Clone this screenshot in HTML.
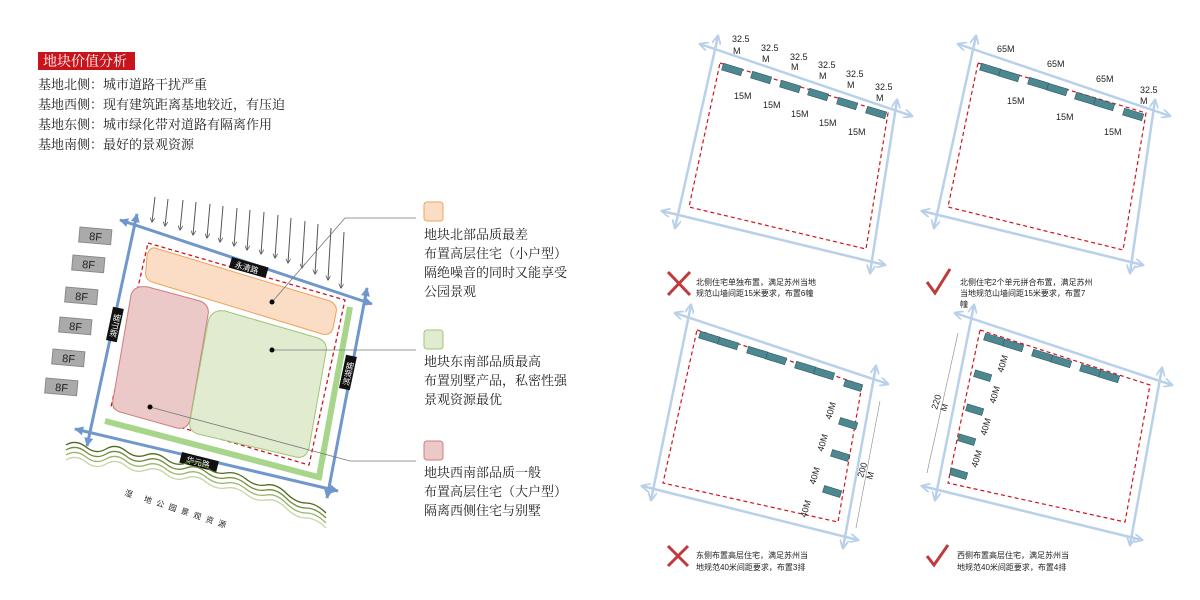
<!DOCTYPE html>
<html><head><meta charset="utf-8"><style>
body{margin:0;background:#fff;width:1200px;height:600px;overflow:hidden}
svg{display:block}
.s{font-family:"Liberation Serif","Noto Serif CJK SC",serif;font-size:13px;fill:#222}
.k{font-family:"Liberation Sans","Noto Sans CJK SC",sans-serif;font-size:8px;fill:#222}
.m{font-family:"Liberation Sans","Noto Sans CJK SC",sans-serif;font-size:9px;fill:#222}
</style></head><body>
<svg width="1200" height="600" viewBox="0 0 1200 600" xmlns="http://www.w3.org/2000/svg">
<defs>
<marker id="ab" viewBox="0 0 10 10" refX="9" refY="5" markerUnits="userSpaceOnUse" markerWidth="10" markerHeight="9" orient="auto-start-reverse"><path d="M0,0L10,5L0,10z" fill="#6f97cc"/></marker>
<marker id="al" viewBox="0 0 10 10" refX="9" refY="5" markerUnits="userSpaceOnUse" markerWidth="10" markerHeight="9" orient="auto-start-reverse"><path d="M0,0L10,5L0,10" fill="none" stroke="#b8d0ea" stroke-width="2"/></marker>
<marker id="ag" viewBox="0 0 10 10" refX="9" refY="5" markerUnits="userSpaceOnUse" markerWidth="5" markerHeight="5" orient="auto"><path d="M0,0L10,5L0,10" fill="none" stroke="#555" stroke-width="1.5"/></marker>
</defs>
<rect x="38" y="52" width="97" height="18" fill="#c8151d"/>
<text x="43" y="66" class="s" style="fill:#fff;font-size:14px">地块价值分析</text>
<text x="38" y="89" class="s">基地北侧：城市道路干扰严重</text>
<text x="38" y="109" class="s">基地西侧：现有建筑距离基地较近，有压迫</text>
<text x="38" y="129" class="s">基地东侧：城市绿化带对道路有隔离作用</text>
<text x="38" y="149" class="s">基地南侧：最好的景观资源</text>

<g stroke="#555" stroke-width="1" marker-end="url(#ag)">
<line x1="155" y1="197" x2="152" y2="222"/><line x1="168" y1="199" x2="165" y2="226"/>
<line x1="183" y1="200" x2="180" y2="230"/><line x1="196" y1="202" x2="193" y2="235"/>
<line x1="210" y1="204" x2="207" y2="238"/><line x1="223" y1="206" x2="220" y2="242"/>
<line x1="237" y1="208" x2="234" y2="246"/><line x1="250" y1="210" x2="247" y2="250"/>
<line x1="264" y1="212" x2="261" y2="254"/><line x1="278" y1="215" x2="275" y2="258"/>
<line x1="291" y1="218" x2="288" y2="263"/><line x1="305" y1="221" x2="302" y2="268"/>
<line x1="318" y1="224" x2="315" y2="274"/><line x1="331" y1="228" x2="328" y2="280"/>
<line x1="344" y1="232" x2="341" y2="288"/>
</g>
<g font-family="Liberation Sans,sans-serif" font-size="11">
<g transform="translate(80,227) rotate(5)"><rect width="32" height="15" fill="#aaa" stroke="#888"/><text x="10" y="12" fill="#222">8F</text></g>
<g transform="translate(73,255) rotate(5)"><rect width="32" height="15" fill="#aaa" stroke="#888"/><text x="10" y="12" fill="#222">8F</text></g>
<g transform="translate(66,287) rotate(5)"><rect width="32" height="15" fill="#aaa" stroke="#888"/><text x="10" y="12" fill="#222">8F</text></g>
<g transform="translate(60,317) rotate(5)"><rect width="32" height="15" fill="#aaa" stroke="#888"/><text x="10" y="12" fill="#222">8F</text></g>
<g transform="translate(53,349) rotate(5)"><rect width="32" height="15" fill="#aaa" stroke="#888"/><text x="10" y="12" fill="#222">8F</text></g>
<g transform="translate(46,378) rotate(5)"><rect width="32" height="15" fill="#aaa" stroke="#888"/><text x="10" y="12" fill="#222">8F</text></g>
</g>
<line x1="105" y1="421" x2="322" y2="478" stroke="#a7d68a" stroke-width="6"/>
<line x1="350" y1="307" x2="319" y2="477" stroke="#a7d68a" stroke-width="6"/>
<polygon points="148,243 345,300 309,465 111,407" fill="none" stroke="#d0131d" stroke-width="1.3" stroke-dasharray="4,3" stroke-linejoin="round"/>
<path d="M155,248 L330,301 Q338,305 336,313 L333,328 Q331,336 322,334 L152,282 Q144,279 146,270 L147,256 Q149,247 155,248Z" fill="#fbdcc5" stroke="#f0a35a"/>
<path d="M148,287 L200,301 Q210,305 208,315 L190,420 Q187,430 177,428 L120,412 Q111,409 113,400 L131,295 Q134,285 148,287Z" fill="#ecc9c9" stroke="#d07c7c"/>
<path d="M225,311 L318,338 Q328,342 326,352 L309,448 Q306,459 296,457 L198,434 Q188,431 190,421 L208,322 Q211,309 225,311Z" fill="#e0ebcf" stroke="#9fc679"/>
<g stroke="#6f97cc" stroke-width="3" marker-start="url(#ab)" marker-end="url(#ab)">
<line x1="120" y1="220" x2="372" y2="304"/>
<line x1="137" y1="214" x2="87" y2="446"/>
<line x1="75" y1="429" x2="338" y2="491"/>
<line x1="367" y1="288" x2="327" y2="498"/>
</g>
<g font-family="Liberation Sans,Noto Sans CJK SC,sans-serif" font-size="8" fill="#fff">
<g transform="translate(232,257) rotate(16)"><rect width="38" height="11" fill="#111"/><text x="5" y="9">永清路</text></g>
<g transform="translate(106,340) rotate(-78)"><rect width="34" height="11" fill="#111"/><text x="4" y="9">湖山路</text></g>
<g transform="translate(339,388) rotate(-78)"><rect width="34" height="11" fill="#111"/><text x="4" y="9">滨湖路</text></g>
<g transform="translate(182,452) rotate(14)"><rect width="38" height="11" fill="#111"/><text x="6" y="9">华元路</text></g>
</g>
<g fill="none" stroke-width="1.3">
<path d="M66,445 q10,-6 20,2 t20,2 t20,2 t20,4 t20,4 t20,4 t20,4 t20,6 t20,6 t20,6 t20,8 t20,10 t20,10" stroke="#4c6b1f"/>
<path d="M66,450 q10,-6 20,2 t20,2 t20,2 t20,4 t20,4 t20,4 t20,4 t20,6 t20,6 t20,6 t20,8 t20,10 t20,10" stroke="#6f8d34"/>
<path d="M66,455 q10,-6 20,2 t20,2 t20,2 t20,4 t20,4 t20,4 t20,4 t20,6 t20,6 t20,6 t20,8 t20,10 t20,10" stroke="#9ab46a"/>
<path d="M66,460 q10,-6 20,2 t20,2 t20,2 t20,4 t20,4 t20,4 t20,4 t20,6 t20,6 t20,6 t20,8 t20,10 t20,10" stroke="#c4d6a4"/>
</g>
<text transform="translate(124,495) rotate(18)" class="k" letter-spacing="5">湿 地公园景观资源</text>
<g stroke="#777" stroke-width="0.8" fill="none">
<polyline points="272,302 345,218 416,218"/>
<polyline points="272,350 416,350"/>
<polyline points="150,407 350,461 416,461"/>
</g>
<circle cx="272" cy="302" r="2.5"/><circle cx="272" cy="350" r="2.5"/><circle cx="150" cy="407" r="2.5"/>
<rect x="424" y="202" width="19" height="19" rx="3" fill="#fbdcc5" stroke="#f0a35a"/>
<text x="424" y="239" class="s">地块北部品质最差</text>
<text x="424" y="258" class="s">布置高层住宅（小户型）</text>
<text x="424" y="277" class="s">隔绝噪音的同时又能享受</text>
<text x="424" y="296" class="s">公园景观</text>
<rect x="424" y="330" width="19" height="19" rx="3" fill="#e0ebcf" stroke="#9fc679"/>
<text x="424" y="366" class="s">地块东南部品质最高</text>
<text x="424" y="385" class="s">布置别墅产品，私密性强</text>
<text x="424" y="404" class="s">景观资源最优</text>
<rect x="424" y="441" width="19" height="19" rx="3" fill="#ecc9c9" stroke="#d07c7c"/>
<text x="424" y="477" class="s">地块西南部品质一般</text>
<text x="424" y="496" class="s">布置高层住宅（大户型）</text>
<text x="424" y="515" class="s">隔离西侧住宅与别墅</text>

<g stroke="#b8d0ea" stroke-width="2.5" marker-start="url(#al)" marker-end="url(#al)">
<line x1="700" y1="44" x2="912" y2="116"/><line x1="718" y1="36" x2="675" y2="228"/>
<line x1="662" y1="211" x2="885" y2="265"/><line x1="897" y1="100" x2="870" y2="273"/>
<line x1="958" y1="44" x2="1170" y2="116"/><line x1="976" y1="36" x2="934" y2="228"/>
<line x1="922" y1="211" x2="1143" y2="265"/><line x1="1155" y1="100" x2="1130" y2="273"/>
<line x1="675" y1="313" x2="888" y2="384"/><line x1="691" y1="305" x2="651" y2="500"/>
<line x1="642" y1="486" x2="858" y2="540"/><line x1="876" y1="366" x2="843" y2="548"/>
<line x1="955" y1="313" x2="1172" y2="385"/><line x1="974" y1="305" x2="935" y2="500"/>
<line x1="922" y1="486" x2="1142" y2="540"/><line x1="1162" y1="368" x2="1130" y2="545"/>
</g>
<g fill="none" stroke="#d0131d" stroke-width="1.2" stroke-dasharray="4,3">
<polygon points="720,63 888,113 866,249 689,207"/>
<polygon points="978,63 1146,113 1123,250 948,207"/>
<polygon points="697,330 862,385 838,522 663,483"/>
<polygon points="980,330 1150,385 1125,522 948,483"/>
</g>
<g fill="#4d8790" stroke="#2f5a60" stroke-width="0.6">
<rect x="722" y="66" width="20" height="7" transform="rotate(17 732 70)"/>
<rect x="751" y="74" width="20" height="7" transform="rotate(17 761 78)"/>
<rect x="780" y="83" width="20" height="7" transform="rotate(17 790 87)"/>
<rect x="808" y="91" width="20" height="7" transform="rotate(17 818 95)"/>
<rect x="837" y="100" width="20" height="7" transform="rotate(17 847 104)"/>
<rect x="866" y="109" width="20" height="7" transform="rotate(17 876 113)"/>
<rect x="980" y="66" width="20" height="7" transform="rotate(17 990 70)"/>
<rect x="999" y="72" width="20" height="7" transform="rotate(17 1009 76)"/>
<rect x="1028" y="80" width="20" height="7" transform="rotate(17 1038 84)"/>
<rect x="1047" y="86" width="20" height="7" transform="rotate(17 1057 90)"/>
<rect x="1075" y="95" width="20" height="7" transform="rotate(17 1085 99)"/>
<rect x="1094" y="101" width="20" height="7" transform="rotate(17 1104 105)"/>
<rect x="1123" y="111" width="20" height="7" transform="rotate(17 1133 115)"/>
<rect x="699" y="334" width="20" height="7" transform="rotate(17 709 338)"/>
<rect x="718" y="340" width="20" height="7" transform="rotate(17 728 344)"/>
<rect x="747" y="349" width="20" height="7" transform="rotate(17 757 353)"/>
<rect x="766" y="355" width="20" height="7" transform="rotate(17 776 359)"/>
<rect x="795" y="364" width="20" height="7" transform="rotate(17 805 368)"/>
<rect x="814" y="370" width="20" height="7" transform="rotate(17 824 374)"/>
<rect x="844" y="382" width="18" height="7" transform="rotate(17 853 386)"/>
<rect x="839" y="420" width="18" height="7" transform="rotate(17 848 424)"/>
<rect x="831" y="452" width="18" height="7" transform="rotate(17 840 456)"/>
<rect x="823" y="488" width="18" height="7" transform="rotate(17 832 492)"/>
<rect x="984" y="336" width="20" height="7" transform="rotate(17 994 340)"/>
<rect x="1003" y="342" width="20" height="7" transform="rotate(17 1013 346)"/>
<rect x="1032" y="352" width="20" height="7" transform="rotate(17 1042 356)"/>
<rect x="1051" y="358" width="20" height="7" transform="rotate(17 1061 362)"/>
<rect x="1080" y="367" width="20" height="7" transform="rotate(17 1090 371)"/>
<rect x="1099" y="373" width="20" height="7" transform="rotate(17 1109 377)"/>
<rect x="974" y="372" width="17" height="7" transform="rotate(17 982 376)"/>
<rect x="966" y="406" width="17" height="7" transform="rotate(17 974 410)"/>
<rect x="958" y="436" width="17" height="7" transform="rotate(17 966 440)"/>
<rect x="950" y="470" width="17" height="7" transform="rotate(17 958 474)"/>
</g>
<g class="m">
<text x="732" y="42">32.5</text><text x="733" y="54">M</text>
<text x="761" y="51">32.5</text><text x="762" y="62">M</text>
<text x="790" y="60">32.5</text><text x="791" y="70">M</text>
<text x="818" y="68">32.5</text><text x="819" y="79">M</text>
<text x="846" y="77">32.5</text><text x="847" y="88">M</text>
<text x="875" y="90">32.5</text><text x="876" y="101">M</text>
<text x="734" y="99">15M</text><text x="763" y="108">15M</text><text x="791" y="117">15M</text><text x="819" y="126">15M</text><text x="848" y="135">15M</text>
<text x="997" y="52">65M</text><text x="1047" y="67">65M</text><text x="1096" y="82">65M</text><text x="1140" y="93">32.5</text><text x="1140" y="104">M</text>
<text x="1007" y="104">15M</text><text x="1056" y="120">15M</text><text x="1104" y="135">15M</text>
</g>
<g class="m">
<text transform="translate(831,420) rotate(-73)">40M</text>
<text transform="translate(823,452) rotate(-73)">40M</text>
<text transform="translate(815,485) rotate(-73)">40M</text>
<text transform="translate(806,518) rotate(-73)">40M</text>
<text transform="translate(863,478) rotate(-73)">200</text><text transform="translate(872,480) rotate(-73)">M</text>
<text transform="translate(1003,373) rotate(-73)">40M</text>
<text transform="translate(995,404) rotate(-73)">40M</text>
<text transform="translate(986,436) rotate(-73)">40M</text>
<text transform="translate(977,468) rotate(-73)">40M</text>
<text transform="translate(937,410) rotate(-73)">220</text><text transform="translate(946,412) rotate(-73)">M</text>
</g>
<g stroke="#888" stroke-width="0.6"><line x1="880" y1="401" x2="856" y2="528"/><line x1="958" y1="333" x2="927" y2="473"/></g>
<g stroke="#c0393b" stroke-width="3" fill="none">
<path d="M668,272 l22,23 M690,272 l-22,23"/>
<path d="M927,282 l8,11 l15,-24"/>
<path d="M668,546 l20,20 M688,546 l-20,20"/>
<path d="M927,556 l7,9 l14,-20"/>
</g>
<g class="k">
<text x="696" y="285">北侧住宅单独布置，满足苏州当地</text>
<text x="696" y="296">规范山墙间距15米要求，布置6幢</text>
<text x="960" y="285">北侧住宅2个单元拼合布置，满足苏州</text>
<text x="960" y="296">当地规范山墙间距15米要求，布置7</text>
<text x="960" y="307">幢</text>
<text x="696" y="558">东侧布置高层住宅，满足苏州当</text>
<text x="696" y="570">地规范40米间距要求，布置3排</text>
<text x="957" y="558">西侧布置高层住宅，满足苏州当</text>
<text x="957" y="570">地规范40米间距要求，布置4排</text>
</g>
</svg>
</body></html>
